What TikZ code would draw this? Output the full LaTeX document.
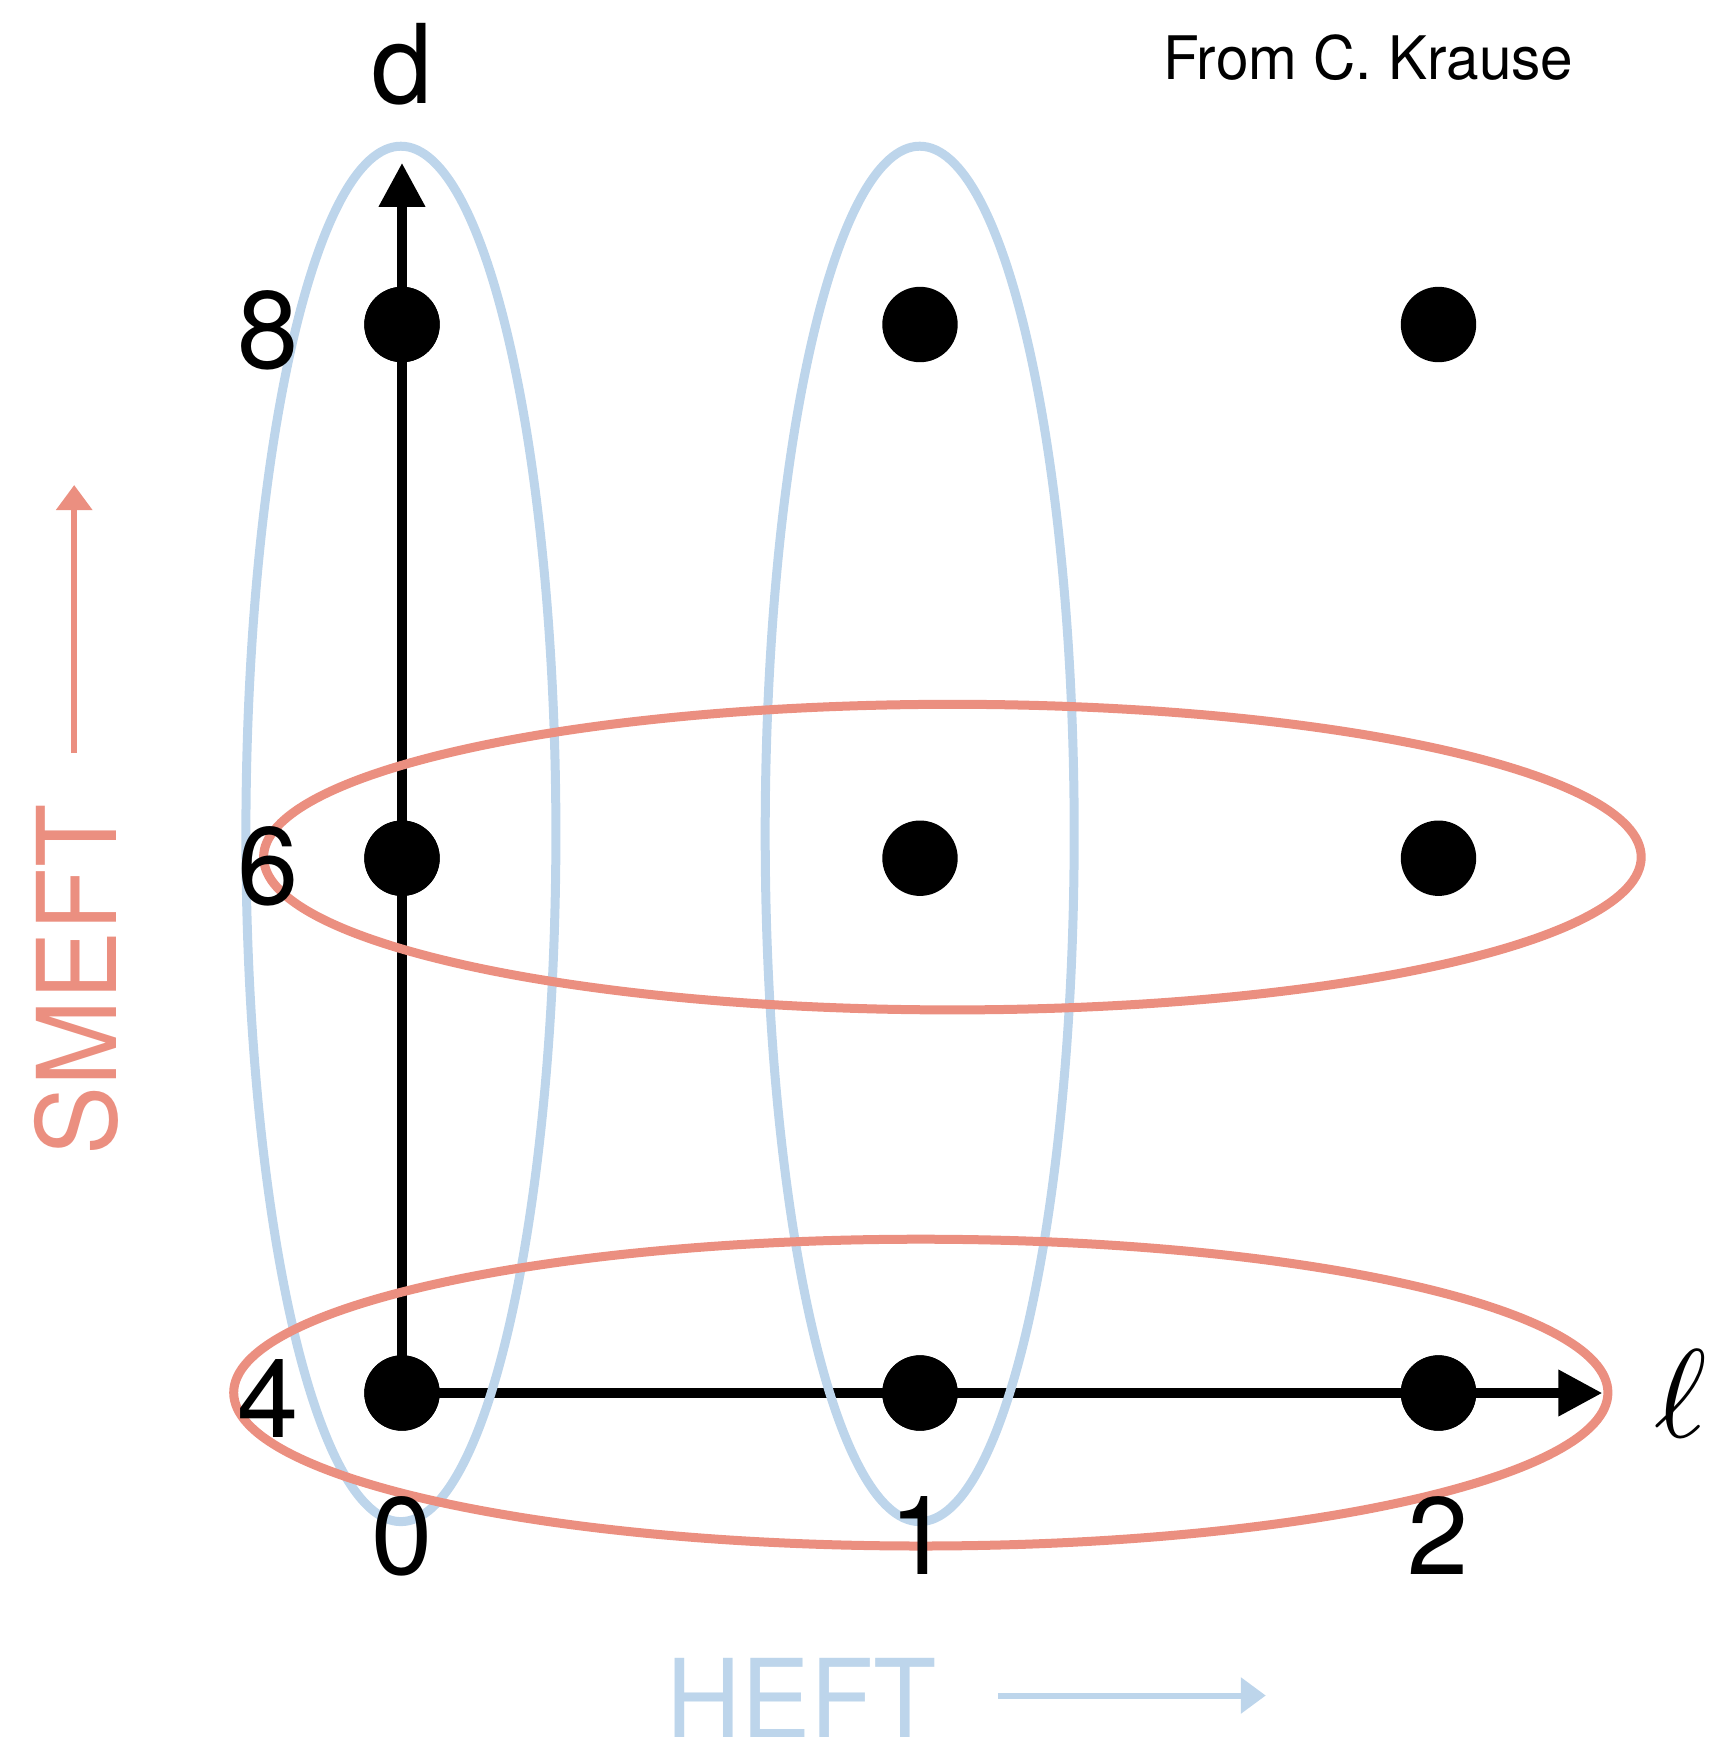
\documentclass[tikz,border=0pt]{standalone}
\usepackage{fontspec}
\setmainfont{TeX Gyre Heros}
\usetikzlibrary{arrows.meta}
\definecolor{smeft}{HTML}{EB8F80}
\definecolor{heft}{HTML}{BDD5EB}
\begin{document}
\begin{tikzpicture}[x=0.5pt,y=-0.5pt,
  dot/.style={circle,fill=black,inner sep=0pt,minimum size=37.7pt},
  axis/.style={line width=5pt,-{Triangle[length=22pt,width=22pt]}},
  blueell/.style={draw=heft,line width=4.5pt},
  redell/.style={draw=smeft,line width=4.5pt},
  num/.style={font=\fontsize{55}{60}\selectfont,anchor=base,inner sep=0pt},
  label arrow/.style={line width=3pt,-{Triangle[length=12.5pt,width=17.5pt]}}]
\useasboundingbox (0,0) rectangle (1711,1737);
% dots
\node[dot] (a08) at (402,324.5) {};
\node[dot] (a06) at (402,858.2) {};
\node[dot] (a04) at (402,1393) {};
\node[dot] (a18) at (920,324.5) {};
\node[dot] (a16) at (920,858.2) {};
\node[dot] (a14) at (920,1393) {};
\node[dot] (a28) at (1438.5,324.5) {};
\node[dot] (a26) at (1438.5,858.2) {};
\node[dot] (a24) at (1438.5,1393) {};
\coordinate (ytip) at (402,162.8);
\coordinate (xtip) at (1602.4,1393);
\draw[axis] (a04.center) -- (ytip);
\draw[axis] (a04.center) -- (xtip);
\node[dot] at (a08) {};
\node[dot] at (a06) {};
\node[dot] at (a04) {};
\node[dot] at (a14) {};
\node[dot] at (a24) {};
% ellipses
\draw[blueell] (400.9,833.9) ellipse [x radius=155, y radius=687.7];
\draw[blueell] (919.7,833.9) ellipse [x radius=154.5, y radius=687.7];
\draw[redell] (952.4,857.1) ellipse [x radius=688.8, y radius=152.8];
\draw[redell] (920.8,1392.6) ellipse [x radius=687.1, y radius=153.4];
% labels
\node[num] (ld) at (402,103) {d};
\node[num] (l8) at (268,368.8) {8};
\node[num] (l6) at (268,904.7) {6};
\node[num] (l4) at (268,1437.4) {4};
\node[num] (l0) at (402,1574.7) {0};
\node[num] (l1) at (920,1574.7) {1};
\node[num] (l2) at (1438.5,1574.7) {2};
\node[inner sep=0pt,scale=6.3] (lell) at (1681,1394) {$\ell$};
\node[anchor=base west,inner sep=0pt,xscale=0.975,font=\fontsize{30}{34}\selectfont] (from) at (1162.8,79.7) {From C. Krause};
% SMEFT
\node[num,text=smeft,rotate=90,xscale=0.94] (smeft) at (116,980) {SMEFT};
\coordinate (sa0) at (74.2,753);
\coordinate (sa1) at (74.2,485);
\draw[smeft,label arrow] (sa0) -- (sa1);
% HEFT
\node[anchor=base west,inner sep=0pt,xscale=0.94,font=\fontsize{55}{60}\selectfont,text=heft] (heft) at (666,1738) {HEFT};
\coordinate (ha0) at (997.8,1695.5);
\coordinate (ha1) at (1265.8,1695.5);
\draw[heft,label arrow] (ha0) -- (ha1);
\end{tikzpicture}
\end{document}
